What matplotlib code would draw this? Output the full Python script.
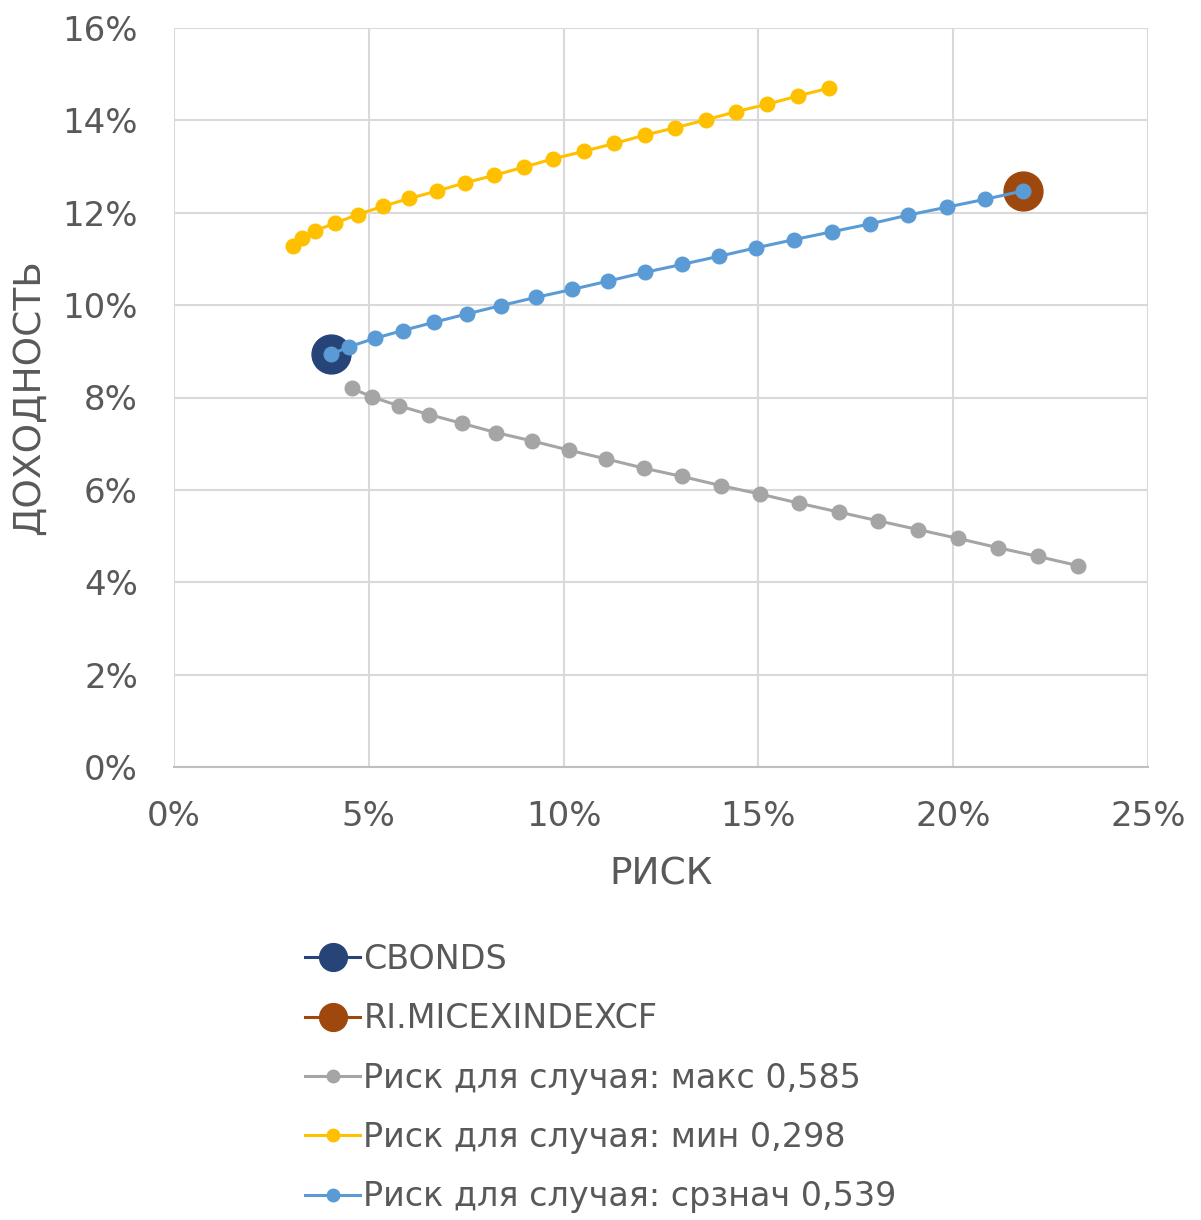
import matplotlib
matplotlib.use("Agg")
import matplotlib.pyplot as plt
from matplotlib.lines import Line2D
from matplotlib.ticker import FuncFormatter, MultipleLocator

# Portfolio points (risk %, return %)
cbonds_risk = [4.04]
cbonds_ret = [8.94]
micex_risk = [21.78]
micex_ret = [12.48]

# Efficient-frontier curves for three correlation cases
max_risk = [4.56, 5.09, 5.77, 6.55, 7.39, 8.27, 9.19, 10.14, 11.09, 12.06, 13.04,
            14.05, 15.04, 16.05, 17.06, 18.08, 19.10, 20.12, 21.14, 22.17, 23.20]
max_ret = [8.20, 8.01, 7.82, 7.63, 7.44, 7.24, 7.06, 6.86, 6.67, 6.47, 6.29,
           6.09, 5.91, 5.71, 5.52, 5.33, 5.14, 4.95, 4.75, 4.56, 4.36]

min_risk = [3.06, 3.28, 3.63, 4.14, 4.72, 5.36, 6.04, 6.75, 7.48, 8.22, 8.99,
            9.74, 10.52, 11.30, 12.08, 12.86, 13.65, 14.43, 15.23, 16.02, 16.82]
min_ret = [11.28, 11.46, 11.61, 11.78, 11.96, 12.14, 12.31, 12.47, 12.65, 12.81, 12.99,
           13.17, 13.33, 13.50, 13.68, 13.84, 14.01, 14.19, 14.35, 14.53, 14.70]

avg_risk = [4.04, 4.50, 5.15, 5.87, 6.68, 7.52, 8.39, 9.30, 10.22, 11.14, 12.09,
            13.03, 14.00, 14.94, 15.92, 16.90, 17.87, 18.85, 19.83, 20.81, 21.78]
avg_ret = [8.94, 9.10, 9.28, 9.45, 9.63, 9.81, 9.99, 10.17, 10.34, 10.52, 10.71,
           10.88, 11.06, 11.24, 11.42, 11.59, 11.76, 11.95, 12.12, 12.29, 12.47]

series_labels = ["CBONDS", "RI.MICEXINDEXCF",
                 "Риск для случая: макс 0,585",
                 "Риск для случая: мин 0,298",
                 "Риск для случая: срзнач 0,539"]
x_label = "РИСК"
y_label = "ДОХОДНОСТЬ"

c_cbonds = "#264478"
c_micex = "#9E480E"
c_max = "#A5A5A5"
c_min = "#FFC000"
c_avg = "#5B9BD5"
text_c = "#595959"
grid_c = "#D9D9D9"

plt.rcParams["font.family"] = ["DejaVu Sans"]

fig = plt.figure(figsize=(12.01, 12.2), dpi=100)
ax = fig.add_axes([174 / 1201, 1 - 767 / 1220, (1148 - 174) / 1201, (767 - 28) / 1220])

ax.plot(cbonds_risk, cbonds_ret, "o", color=c_cbonds, ms=28, zorder=3)
ax.plot(micex_risk, micex_ret, "o", color=c_micex, ms=28, zorder=3)
for xs, ys, c in [(max_risk, max_ret, c_max), (min_risk, min_ret, c_min), (avg_risk, avg_ret, c_avg)]:
    ax.plot(xs, ys, "-o", color=c, lw=2.2, ms=10.5, zorder=4)

ax.set_xlim(0, 25)
ax.set_ylim(0, 16)
ax.xaxis.set_major_locator(MultipleLocator(5))
ax.yaxis.set_major_locator(MultipleLocator(2))
pct = FuncFormatter(lambda v, p: f"{v:.0f}%")
ax.xaxis.set_major_formatter(pct)
ax.yaxis.set_major_formatter(pct)
ax.grid(True, color=grid_c, lw=1.5)
ax.set_axisbelow(True)
for s in ["top", "right", "left"]:
    ax.spines[s].set_visible(False)
ax.spines["bottom"].set_color("#BFBFBF")
ax.spines["bottom"].set_linewidth(1.5)
ax.tick_params(length=0, labelsize=24.5, colors=text_c)
ax.tick_params(axis="x", pad=24)
ax.tick_params(axis="y", pad=26)
ax.set_xlabel(x_label, fontsize=27, color=text_c, labelpad=17)
ax.set_ylabel(y_label, fontsize=27, color=text_c, labelpad=11)

handles = [
    Line2D([], [], color=c_cbonds, lw=2.2, marker="o", ms=20),
    Line2D([], [], color=c_micex, lw=2.2, marker="o", ms=20),
    Line2D([], [], color=c_max, lw=2.2, marker="o", ms=9),
    Line2D([], [], color=c_min, lw=2.2, marker="o", ms=9),
    Line2D([], [], color=c_avg, lw=2.2, marker="o", ms=9),
]
leg = fig.legend(handles, series_labels, loc="upper left",
                 bbox_to_anchor=(305 / 1201, 1 - 943 / 1220),
                 frameon=False, fontsize=24, handlelength=1.65, handletextpad=0.1,
                 labelspacing=0.79, borderpad=0, borderaxespad=0)
for t in leg.get_texts():
    t.set_color(text_c)

fig.savefig("out.png", dpi=100)
